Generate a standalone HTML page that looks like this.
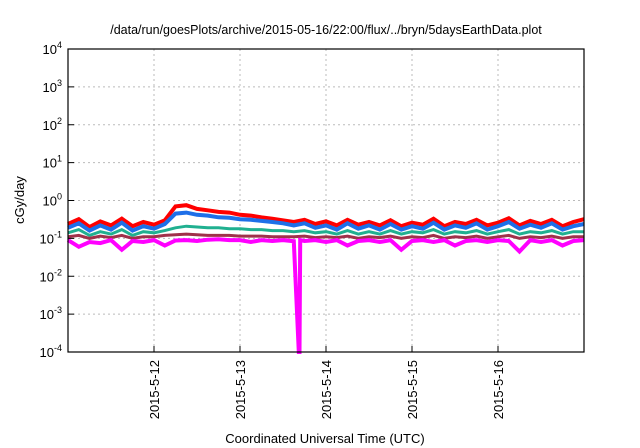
<!DOCTYPE html>
<html><head><meta charset="utf-8"><style>
body{margin:0;background:#fff;}
svg{display:block;font-family:"Liberation Sans",sans-serif;}
</style></head><body>
<svg id="chart" width="640" height="448">
<text x="326" y="34" text-anchor="middle" font-size="12.5">/data/run/goesPlots/archive/2015-05-16/22:00/flux/../bryn/5daysEarthData.plot</text>
<g id="grid"></g>
<g id="series"></g>
<rect x="68" y="49" width="516" height="303" fill="none" stroke="#000" stroke-width="1.2"/>
<g id="axes"></g>
<text transform="translate(24,200) rotate(-90)" text-anchor="middle" font-size="13">cGy/day</text>
<text x="325" y="443" text-anchor="middle" font-size="13">Coordinated Universal Time (UTC)</text>
</svg>
<script>
const hours = [0,3,6,9,12,15,18,21,24,27,30,33,36,39,42,45,48,51,54,57,60,63,66,69,72,75,78,81,84,87,90,93,96,99,102,105,108,111,114,117,120,123,126,129,132,135,138,141,144];
const redVals = [0.24,0.32,0.2,0.28,0.22,0.33,0.21,0.27,0.23,0.3,0.7,0.75,0.6,0.55,0.5,0.48,0.42,0.4,0.36,0.33,0.3,0.27,0.31,0.24,0.28,0.22,0.31,0.23,0.27,0.22,0.3,0.21,0.26,0.23,0.33,0.21,0.27,0.24,0.31,0.22,0.26,0.34,0.22,0.29,0.24,0.31,0.21,0.27,0.32];
const blueVals = [0.19,0.25,0.16,0.22,0.17,0.26,0.16,0.21,0.18,0.24,0.45,0.48,0.42,0.4,0.36,0.35,0.32,0.31,0.29,0.27,0.25,0.22,0.25,0.19,0.22,0.17,0.25,0.18,0.22,0.17,0.24,0.17,0.21,0.18,0.26,0.17,0.22,0.19,0.25,0.17,0.21,0.27,0.18,0.23,0.19,0.25,0.17,0.21,0.24];
const tealVals = [0.14,0.17,0.12,0.15,0.13,0.17,0.12,0.15,0.14,0.16,0.19,0.21,0.2,0.19,0.19,0.18,0.18,0.17,0.17,0.16,0.16,0.15,0.16,0.14,0.15,0.13,0.16,0.13,0.15,0.13,0.16,0.13,0.15,0.14,0.17,0.13,0.15,0.14,0.16,0.13,0.15,0.17,0.13,0.15,0.14,0.16,0.13,0.15,0.15];
const brownVals = [0.11,0.12,0.1,0.115,0.105,0.12,0.1,0.11,0.11,0.12,0.125,0.13,0.125,0.12,0.12,0.12,0.115,0.115,0.115,0.11,0.11,0.11,0.115,0.105,0.11,0.105,0.115,0.1,0.11,0.105,0.115,0.1,0.11,0.105,0.12,0.1,0.11,0.105,0.115,0.1,0.11,0.12,0.1,0.11,0.105,0.115,0.1,0.11,0.11];
const magentaHours = [0,3,6,9,12,15,18,21,24,27,30,33,36,39,42,45,48,51,54,57,60,63,64.4,64.6,64.8,66,69,72,75,78,81,84,87,90,93,96,99,102,105,108,111,114,117,120,123,126,129,132,135,138,141,144];
const magentaVals = [0.09,0.06,0.08,0.075,0.09,0.05,0.085,0.08,0.09,0.065,0.088,0.09,0.085,0.092,0.095,0.09,0.09,0.08,0.09,0.085,0.09,0.084,0.0001,0.0001,0.09,0.085,0.09,0.08,0.09,0.065,0.085,0.09,0.08,0.09,0.05,0.085,0.09,0.08,0.09,0.065,0.085,0.09,0.08,0.09,0.085,0.045,0.09,0.08,0.09,0.065,0.085,0.09];
const xTickLabels = ["2015-5-12","2015-5-13","2015-5-14","2015-5-15","2015-5-16"];
const xTickHours = [24,48,72,96,120];
const yTickExps = [-4,-3,-2,-1,0,1,2,3,4];

const NS="http://www.w3.org/2000/svg";
const X0=68,X1=584,Y0=49,Y1=352,H0=0,H1=144,E0=-4,E1=4;
function xs(h){return X0+(h-H0)/(H1-H0)*(X1-X0);}
function ys(v){const l=Math.max(Math.log10(v),E0);return Y1-(l-E0)/(E1-E0)*(Y1-Y0);}
function mk(tag,attrs,parent){const e=document.createElementNS(NS,tag);for(const k in attrs)e.setAttribute(k,attrs[k]);parent.appendChild(e);return e;}
const grid=document.getElementById('grid'),axes=document.getElementById('axes'),ser=document.getElementById('series');

yTickExps.forEach(ex=>{
  const y=ys(Math.pow(10,ex));
  if(ex>E0&&ex<E1){const g=mk('line',{x1:X0,x2:X1,y1:y,y2:y,stroke:'#bbb','stroke-dasharray':'2,3'},grid);
  
  }
  const t=mk('line',{x1:X0,x2:X0+6,y1:y,y2:y,stroke:'#000'},axes);
  
  
  const tx=mk('text',{x:X0-6,y:y+5,'text-anchor':'end','font-size':'13'},axes);
  
  
  tx.appendChild(document.createTextNode('10'));
  const s=mk('tspan',{dy:'-6','font-size':'9'},tx);s.textContent=String(ex);
});
xTickHours.forEach((h,i)=>{
  const x=xs(h);
  const g=mk('line',{x1:x,x2:x,y1:Y0,y2:Y1,stroke:'#bbb','stroke-dasharray':'2,3'},grid);
  
  
  const t=mk('line',{x1:x,x2:x,y1:Y1,y2:Y1-6,stroke:'#000'},axes);
  
  
  const tx=mk('text',{transform:`translate(${x+5},360) rotate(-90)`,'text-anchor':'end','font-size':'13'},axes);
  
  
  tx.textContent=xTickLabels[i];
});
function line(hs,vals,color,w,name){
  const pts=hs.map((h,i)=>xs(h).toFixed(1)+','+ys(vals[i]).toFixed(1)).join(' ');
  const p=mk('polyline',{points:pts,fill:'none',stroke:color,'stroke-width':w,'stroke-linejoin':'miter'},ser);
  
  
}
line(hours,redVals,'#f00',4,'series-red');
line(hours,blueVals,'#1e6fe8',4,'series-blue');
line(hours,tealVals,'#20b090',3,'series-teal');
line(hours,brownVals,'#a0304a',3,'series-brown');
line(magentaHours,magentaVals,'#f0f',4,'series-magenta');
</script>
</body></html>
